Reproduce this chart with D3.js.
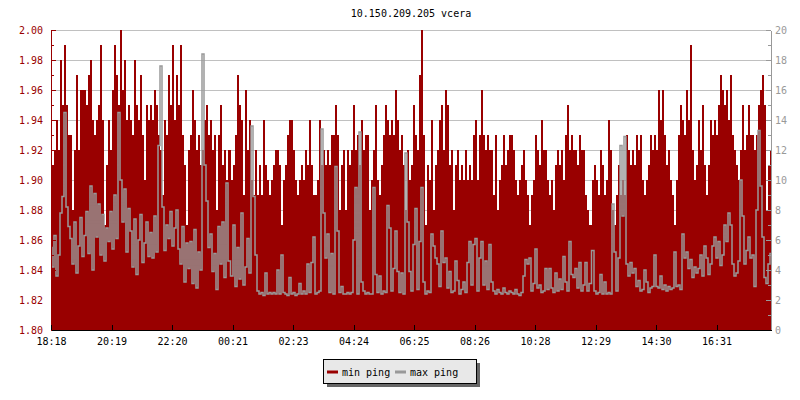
<!DOCTYPE html>
<html>
<head>
<meta charset="utf-8">
<script src="https://cdn.jsdelivr.net/npm/d3@7"></script>
<style>
  html, body { margin: 0; padding: 0; background: #fff; }
  svg { display: block; }
  text { font-family: "DejaVu Sans Mono", monospace; font-size: 10px; }
</style>
</head>
<body>
<svg id="chart" width="800" height="400"></svg>
<script>
// ---------- data ----------
const title = "10.150.209.205 vcera";
const seriesNames = ["min ping", "max ping"];
const timeLabels = ["18:18","20:19","22:20","00:21","02:23","04:24","06:25","08:26","10:28","12:29","14:30","16:31"];
const leftTicks = [1.80,1.82,1.84,1.86,1.88,1.90,1.92,1.94,1.96,1.98,2.00];
const rightTicks = [0,2,4,6,8,10,12,14,16,18,20];

// min ping (left axis), sampled every ~4 minutes over 24 h
const minPing = [
2.00,1.91,1.92,1.94,1.92,1.98,1.95,1.99,1.95,1.93,
1.93,1.88,1.92,1.97,1.92,1.96,1.96,1.96,1.95,1.97,
1.98,1.94,1.93,1.94,1.95,1.99,1.94,1.87,1.91,1.94,
1.92,1.96,1.99,1.97,1.95,2.00,1.96,1.98,1.94,1.95,
1.94,1.93,1.98,1.95,1.94,1.97,1.93,1.90,1.95,1.94,
1.95,1.94,1.96,1.95,1.93,1.92,1.89,1.94,1.93,1.97,
1.95,1.99,1.94,1.97,1.95,1.99,1.93,1.91,1.87,1.92,
1.93,1.96,1.94,1.92,1.93,1.91,1.92,1.94,1.95,1.93,
1.94,1.92,1.93,1.88,1.93,1.95,1.91,1.92,1.90,1.92,
1.90,1.91,1.93,1.97,1.95,1.94,1.89,1.96,1.92,1.94,
1.90,1.89,1.92,1.89,1.91,1.89,1.94,1.91,1.90,1.89,
1.90,1.91,1.92,1.92,1.91,1.87,1.90,1.91,1.93,1.94,
1.94,1.92,1.90,1.89,1.90,1.91,1.90,1.92,1.91,1.94,
1.91,1.89,1.89,1.90,1.94,1.91,1.92,1.91,1.92,1.91,
1.93,1.93,1.95,1.93,1.88,1.91,1.92,1.88,1.92,1.91,
1.92,1.95,1.92,1.93,1.91,1.94,1.92,1.93,1.93,1.88,
1.90,1.92,1.95,1.90,1.89,1.91,1.93,1.95,1.94,1.93,
1.94,1.93,1.96,1.94,1.92,1.93,1.91,1.88,1.92,1.90,
1.91,1.95,1.93,1.92,1.97,2.00,1.93,1.87,1.91,1.90,
1.94,1.88,1.91,1.92,1.94,1.95,1.92,1.96,1.95,1.91,
1.92,1.88,1.91,1.92,1.90,1.91,1.90,1.92,1.90,1.91,
1.90,1.93,1.94,1.90,1.93,1.96,1.93,1.92,1.93,1.92,
1.92,1.89,1.93,1.88,1.90,1.91,1.93,1.91,1.92,1.93,
1.93,1.92,1.90,1.89,1.90,1.91,1.92,1.90,1.89,1.87,
1.89,1.90,1.93,1.92,1.91,1.94,1.92,1.92,1.90,1.89,
1.90,1.88,1.91,1.92,1.91,1.92,1.90,1.93,1.95,1.92,
1.93,1.92,1.92,1.91,1.93,1.92,1.92,1.89,1.88,1.87,
1.90,1.91,1.90,1.89,1.92,1.91,1.89,1.90,1.94,1.92,
1.88,1.87,1.89,1.91,1.89,1.90,1.89,1.93,1.92,1.91,
1.92,1.91,1.93,1.92,1.93,1.90,1.89,1.90,1.91,1.93,
1.92,1.93,1.92,1.96,1.94,1.96,1.93,1.91,1.92,1.90,
1.89,1.87,1.90,1.93,1.95,1.94,1.93,1.96,1.94,1.99,
1.92,1.90,1.91,1.94,1.92,1.95,1.91,1.89,1.91,1.94,
1.93,1.94,1.93,1.95,1.97,1.96,1.95,1.96,1.94,1.97,
1.93,1.92,1.91,1.90,1.92,1.95,1.92,1.93,1.95,1.93,
1.93,1.92,1.93,1.95,1.96,1.97,1.95,1.88,1.91,1.92
];

// max ping (right axis)
const maxPing = [
5.5,4.2,6.3,3.6,5.0,7.8,8.9,14.5,8.2,6.9,
6.1,4.4,7.2,3.8,5.6,7.5,4.9,6.3,7.9,5.1,
9.6,4.0,9.1,6.2,8.4,5.0,7.7,4.6,6.8,5.9,
7.9,5.4,9.0,6.1,14.5,10.0,7.2,9.4,5.2,8.1,
6.6,4.2,7.4,3.7,6.0,7.7,4.5,5.8,7.2,4.9,
6.5,4.8,7.6,5.2,12.3,17.6,8.2,5.3,7.0,6.1,
7.9,5.6,6.8,8.0,5.4,4.4,6.9,3.2,5.8,4.1,
5.9,3.1,6.7,2.8,5.2,4.0,18.4,11.0,8.6,5.5,
6.4,3.9,5.1,2.7,6.9,4.4,7.2,3.5,9.8,4.6,
3.6,7.0,2.9,5.5,3.4,7.8,3.0,4.2,6.1,3.8,
13.6,8.9,5.0,2.6,2.4,2.5,2.3,3.8,2.4,2.5,
2.4,2.5,2.4,4.0,2.4,5.0,2.5,2.4,2.3,3.5,
2.4,2.5,2.3,2.4,3.1,2.4,2.6,2.4,4.4,2.5,
4.5,6.2,2.4,2.5,2.6,13.4,7.8,4.8,6.4,2.5,
5.1,2.4,10.9,6.6,2.5,2.9,2.4,2.4,2.5,2.4,
2.5,6.0,9.5,2.4,13.2,3.2,2.6,2.4,2.5,2.4,
2.4,9.5,3.7,2.5,3.6,2.4,2.6,2.5,8.3,6.8,
2.6,4.1,6.6,3.9,2.5,3.8,2.4,11.8,7.2,3.9,
2.6,5.7,8.1,2.7,5.9,9.5,3.2,2.4,2.6,2.5,
6.4,5.6,4.8,4.4,2.9,6.6,4.5,4.8,2.8,3.9,
2.5,2.6,4.6,3.3,2.4,2.7,3.2,2.5,4.5,5.9,
3.0,5.7,6.1,2.6,4.8,5.9,3.0,4.6,2.7,5.7,
3.2,2.6,2.4,2.7,2.5,2.4,2.8,2.5,2.4,2.6,
2.5,2.4,2.7,2.4,2.3,2.5,3.6,4.7,4.4,4.8,
2.6,3.1,5.4,2.8,3.0,2.5,2.6,4.1,2.7,4.1,
2.8,2.5,3.8,2.6,3.4,2.7,4.9,3.2,2.6,5.9,
3.7,3.5,4.1,2.8,4.5,2.6,3.0,4.5,2.6,3.1,
5.3,2.6,2.4,2.5,3.7,2.4,3.2,2.4,2.5,2.4,
8.4,5.2,2.6,4.8,12.3,7.6,12.9,4.4,3.6,4.5,
3.8,4.1,2.9,3.3,2.6,2.7,4.0,3.2,2.5,2.8,
2.9,5.0,2.9,2.8,3.6,2.7,3.0,2.6,2.9,2.7,
2.8,5.2,2.9,3.0,2.7,6.4,4.8,5.2,4.1,4.7,
3.5,4.2,3.8,4.1,5.0,3.6,5.6,4.8,3.7,4.4,
5.6,6.2,4.8,5.9,4.3,5.0,7.0,5.9,7.8,7.0,
4.4,3.6,3.8,4.6,10.0,7.6,4.4,5.3,6.2,4.8,
5.0,2.9,8.0,13.3,9.6,6.2,3.5,3.1,4.4,5.1
];

// ---------- layout ----------
const RED = "#990000", GREY = "#999999";
const plot = { left: 51, right: 771, top: 30, bottom: 330 };
const spanMinutes = 1440, tickStepMinutes = 121;

const svg = d3.select("#chart");
const x = d3.scaleLinear().domain([0, spanMinutes]).range([plot.left, plot.right]);
const yL = d3.scaleLinear().domain([1.80, 2.00]).range([plot.bottom, plot.top]);
const yR = d3.scaleLinear().domain([0, 20]).range([plot.bottom, plot.top]);
const N = minPing.length;
const sampleT = d3.range(N).map(i => i * spanMinutes / (N - 1));
const px = i => Math.round(x(sampleT[i]));

svg.append("rect").attr("width", 800).attr("height", 400).attr("fill", "#fff");

// gridlines
svg.append("g").selectAll("line").data(leftTicks.slice(1)).join("line")
  .attr("x1", plot.left).attr("x2", plot.right)
  .attr("y1", d => Math.round(yL(d)) + 0.5).attr("y2", d => Math.round(yL(d)) + 0.5)
  .attr("stroke", "#c0c0c0").attr("stroke-width", 1);

svg.append("clipPath").attr("id", "clip").append("rect")
  .attr("x", plot.left).attr("y", plot.top).attr("width", plot.right - plot.left).attr("height", plot.bottom - plot.top);

const g = svg.append("g").attr("clip-path", "url(#clip)");
const area = d3.area()
  .x((d, i) => px(i)).y0(yL(1.80)).y1(d => Math.round(yL(d))).curve(d3.curveStep);
g.append("path").datum(minPing).attr("d", area).attr("fill", RED).attr("shape-rendering", "crispEdges");

const line = d3.line().x((d, i) => px(i)).y(d => yR(d)).curve(d3.curveStep);
g.append("path").datum(maxPing).attr("d", line).attr("fill", "none")
  .attr("stroke", GREY).attr("stroke-width", 1.5).attr("stroke-linejoin", "miter");

// ---------- axes ----------
function styleAxis(sel, color) {
  sel.selectAll("path, line").attr("stroke", color).attr("shape-rendering", "crispEdges");
  sel.selectAll("text").attr("fill", color).style("font-family", "DejaVu Sans Mono, monospace").style("font-size", "10px");
}
// left axis (red) with minor ticks
const leftMinor = d3.range(181, 200, 2).map(v => v / 100);
const gLm = svg.append("g").attr("transform", `translate(${plot.left},0)`)
  .call(d3.axisLeft(yL).tickValues(leftMinor).tickFormat("").tickSizeInner(-3).tickSizeOuter(0));
styleAxis(gLm, RED); gLm.select(".domain").remove();
const gL = svg.append("g").attr("transform", `translate(${plot.left},0)`)
  .call(d3.axisLeft(yL).tickValues(leftTicks).tickFormat(d3.format(".2f")).tickSizeInner(-5).tickSizeOuter(0).tickPadding(8));
styleAxis(gL, RED);

// right axis (grey) with minor ticks
const rightMinor = d3.range(1, 20, 2);
const gRm = svg.append("g").attr("transform", `translate(${plot.right},0)`)
  .call(d3.axisRight(yR).tickValues(rightMinor).tickFormat("").tickSizeInner(-3).tickSizeOuter(0));
styleAxis(gRm, GREY); gRm.select(".domain").remove();
const gR = svg.append("g").attr("transform", `translate(${plot.right},0)`)
  .call(d3.axisRight(yR).tickValues(rightTicks).tickSizeInner(-5).tickSizeOuter(0).tickPadding(4));
styleAxis(gR, GREY);

// bottom axis (black)
const gX = svg.append("g").attr("transform", `translate(0,${plot.bottom})`)
  .call(d3.axisBottom(x).tickValues(timeLabels.map((d, i) => i * tickStepMinutes))
    .tickFormat((d, i) => timeLabels[i]).tickSizeInner(-5).tickSizeOuter(0).tickPadding(8));
styleAxis(gX, "#000");

// ---------- title ----------
svg.append("text").attr("x", (plot.left + plot.right) / 2).attr("y", 17)
  .attr("text-anchor", "middle").attr("fill", "#000").text(title);

// ---------- legend ----------
const lg = { x: 323, y: 359, w: 153, h: 24 };
svg.append("rect").attr("x", lg.x + 4).attr("y", lg.y + 4).attr("width", lg.w).attr("height", lg.h).attr("fill", "#666");
svg.append("rect").attr("x", lg.x + 0.5).attr("y", lg.y + 0.5).attr("width", lg.w).attr("height", lg.h)
  .attr("fill", "#e8e8e8").attr("stroke", "#000").attr("stroke-width", 1);
const items = seriesNames.map((n, i) => ({ name: n, color: i === 0 ? RED : GREY, x: i === 0 ? 327 : 395 }));
const li = svg.append("g").selectAll("g").data(items).join("g");
li.append("line").attr("x1", d => d.x).attr("x2", d => d.x + 11).attr("y1", 372).attr("y2", 372)
  .attr("stroke", d => d.color).attr("stroke-width", 3);
li.append("text").attr("x", d => d.x + 15).attr("y", 375.5).attr("fill", "#000").text(d => d.name);
</script>
</body>
</html>
